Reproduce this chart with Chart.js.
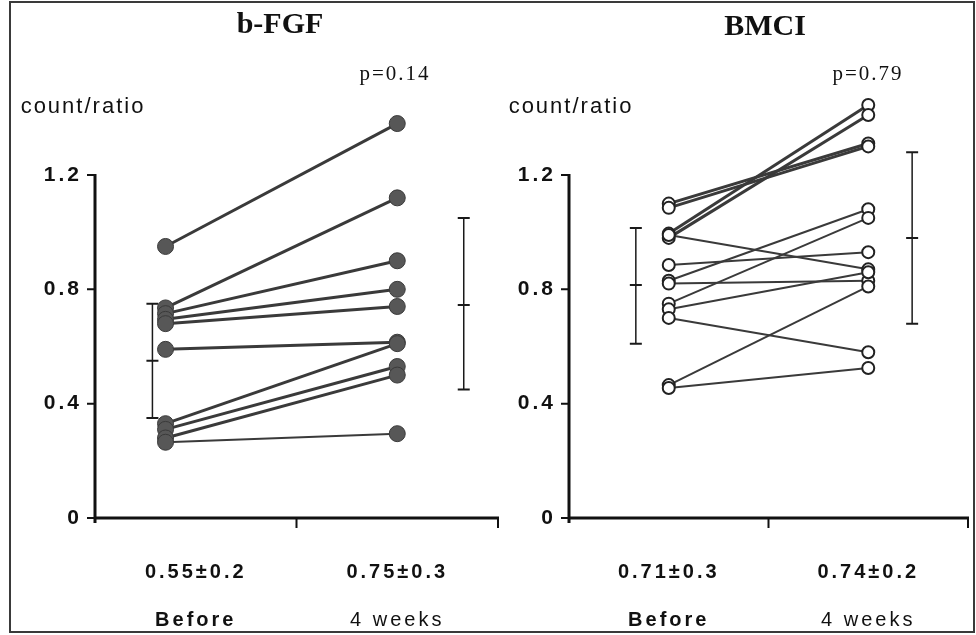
<!DOCTYPE html>
<html>
<head>
<meta charset="utf-8">
<script src="https://cdn.jsdelivr.net/npm/chart.js@4.4.0/dist/chart.umd.min.js"></script>
<style>
  html, body { margin: 0; padding: 0; background: #fff; }
  #page { position: relative; width: 976px; height: 635px; overflow: hidden; font-family: "Liberation Sans", Arial, sans-serif; color: #111; }
  #frame { position: absolute; left: 9px; top: 1px; width: 966px; height: 632px; border: 2px solid #3a3a3a; box-sizing: border-box; }
  canvas { position: absolute; top: 0; }
  .lbl { position: absolute; white-space: nowrap; line-height: 1; transform: translate(-50%, -50%); }
  .title { font-family: "Liberation Serif", "Times New Roman", serif; font-weight: bold; font-size: 30px; }
  .pval { font-family: "Liberation Serif", "Times New Roman", serif; font-size: 21px; letter-spacing: 2px; }
  .unit { font-size: 22px; letter-spacing: 2px; }
</style>
</head>
<body>
<div id="page">
  <div id="frame"></div>
  <canvas id="fgf" width="510" height="635" style="left:0;width:510px;height:635px"></canvas>
  <canvas id="bmci" width="476" height="635" style="left:500px;width:476px;height:635px"></canvas>
  <div class="lbl title" style="left:280px;top:23px">b-FGF</div>
  <div class="lbl title" style="left:765px;top:25px">BMCI</div>
  <div class="lbl pval" style="left:395px;top:73px">p=0.14</div>
  <div class="lbl pval" style="left:868px;top:73px">p=0.79</div>
  <div class="lbl unit" style="left:83px;top:106px">count/ratio</div>
  <div class="lbl unit" style="left:571px;top:106px">count/ratio</div>
</div>
<script>
"use strict";

// shared axis values
const yTicks = [0, 0.4, 0.8, 1.2];
const yTickLabels = ["0", "0.4", "0.8", "1.2"];
const groups = ["Before", "4 weeks"];

// b-FGF, one entry per subject
const fgfBefore = [0.95, 0.735, 0.715, 0.695, 0.68, 0.59, 0.33, 0.31, 0.28, 0.265];
const fgfAfter = [1.38, 1.12, 0.90, 0.80, 0.74, 0.615, 0.61, 0.53, 0.50, 0.295];
const fgfStats = ["0.55±0.2", "0.75±0.3"];
const fgfErrLow = [0.35, 0.45];
const fgfErrMean = [0.55, 0.745];
const fgfErrHigh = [0.75, 1.05];

// BMCI, one entry per subject
const bmciBefore = [1.10, 1.085, 0.995, 0.98, 0.99, 0.885, 0.83, 0.82, 0.75, 0.73, 0.70, 0.465, 0.455];
const bmciAfter = [1.31, 1.30, 1.445, 1.41, 0.87, 0.93, 1.08, 0.83, 1.05, 0.86, 0.58, 0.81, 0.525];
const bmciStats = ["0.71±0.3", "0.74±0.2"];
const bmciErrLow = [0.61, 0.68];
const bmciErrMean = [0.815, 0.98];
const bmciErrHigh = [1.015, 1.28];

const ink = "#111";

const axisPlugin = {
  id: "axisLines",
  beforeDraw(chart) {
    chart.ctx.letterSpacing = "3px";
  },
  afterDraw(chart) {
    const { ctx, scales } = chart;
    const x = scales.x, y = scales.y;
    const y0 = y.getPixelForValue(0);
    const yTop = y.getPixelForValue(yTicks[yTicks.length - 1]);
    const x0 = x.getPixelForValue(0);
    const x2 = x.getPixelForValue(2);
    ctx.save();
    ctx.strokeStyle = ink;
    ctx.lineWidth = 3;
    ctx.beginPath();
    ctx.moveTo(x0, yTop - 1);
    ctx.lineTo(x0, y0 + 5);
    ctx.moveTo(x0, y0);
    ctx.lineTo(x2 + 1, y0);
    ctx.stroke();
    ctx.lineWidth = 2;
    ctx.beginPath();
    yTicks.forEach(v => {
      const py = y.getPixelForValue(v);
      ctx.moveTo(x0 - 8, py);
      ctx.lineTo(x0, py);
    });
    [1, 2].forEach(v => {
      const px = x.getPixelForValue(v);
      ctx.moveTo(px, y0);
      ctx.lineTo(px, y0 + 10);
    });
    ctx.stroke();
    ctx.restore();
  }
};

function makePanel(id, p) {
  const datasets = [];
  p.before.forEach((b, i) => {
    datasets.push({
      data: [{ x: p.colX[0], y: b }, { x: p.colX[1], y: p.after[i] }],
      showLine: true,
      pointRadius: 0,
      borderColor: p.lineColor,
      borderWidth: p.lineWidth(i),
      order: 3
    });
  });
  datasets.push({
    data: p.before.map(v => ({ x: p.colX[0], y: v }))
      .concat(p.after.map(v => ({ x: p.colX[1], y: v }))),
    showLine: false,
    pointRadius: p.pointRadius,
    pointBackgroundColor: p.pointFill,
    pointBorderColor: p.pointEdge,
    pointBorderWidth: p.pointEdgeWidth,
    order: 1
  });
  for (let k = 0; k < 2; k++) {
    datasets.push({
      data: [p.errLow[k], p.errMean[k], p.errHigh[k]].map(v => ({ x: p.errX[k], y: v })),
      showLine: true,
      borderColor: "#1a1a1a",
      borderWidth: 1.5,
      pointStyle: "line",
      pointRadius: 6,
      pointBorderColor: "#1a1a1a",
      pointBorderWidth: 2,
      order: 2
    });
  }

  const colTicks = s => { s.ticks = [{ value: 0.5 }, { value: 1.5 }]; };

  return new Chart(document.getElementById(id).getContext("2d"), {
    type: "scatter",
    data: { datasets },
    options: {
      responsive: false,
      animation: false,
      events: [],
      layout: { padding: { top: 89.25, right: p.padRight, bottom: 0, left: 0 } },
      plugins: { legend: { display: false }, tooltip: { enabled: false } },
      scales: {
        x: {
          type: "linear", min: 0, max: 2, weight: 0,
          afterBuildTicks: colTicks,
          afterFit: s => { s.height = 68; },
          grid: { display: false, drawTicks: false },
          border: { display: false },
          ticks: {
            padding: 42, color: ink,
            font: { family: "Liberation Sans", size: 20, weight: "bold" },
            callback: (v, i) => p.stats[i]
          }
        },
        xn: {
          type: "linear", position: "bottom", min: 0, max: 2, weight: 1,
          afterBuildTicks: colTicks,
          afterFit: s => { s.height = 49; },
          grid: { display: false, drawTicks: false },
          border: { display: false },
          ticks: {
            padding: 22, color: ink,
            font: c => ({ family: "Liberation Sans", size: 20, weight: c.index === 0 ? "bold" : "normal" }),
            callback: (v, i) => groups[i]
          }
        },
        y: {
          type: "linear", min: 0, max: 1.5,
          afterBuildTicks: s => { s.ticks = yTicks.map(v => ({ value: v })); },
          afterFit: s => { s.width = p.axisLeft; },
          grid: { display: false, drawTicks: false },
          border: { display: false },
          ticks: {
            padding: 13, color: ink,
            font: { family: "Liberation Sans", size: 21, weight: "bold" },
            callback: (v, i) => yTickLabels[i]
          }
        }
      }
    },
    plugins: [axisPlugin]
  });
}

makePanel("fgf", {
  before: fgfBefore, after: fgfAfter, stats: fgfStats,
  errLow: fgfErrLow, errMean: fgfErrMean, errHigh: fgfErrHigh,
  colX: [0.35, 1.5], errX: [0.285, 1.83],
  axisLeft: 95, padRight: 12,
  lineColor: "#3a3a3a", lineWidth: i => (i === fgfBefore.length - 1 ? 2 : 3),
  pointRadius: 8, pointFill: "#575757", pointEdge: "#3a3a3a", pointEdgeWidth: 1
});

makePanel("bmci", {
  before: bmciBefore, after: bmciAfter, stats: bmciStats,
  errLow: bmciErrLow, errMean: bmciErrMean, errHigh: bmciErrHigh,
  colX: [0.5, 1.5], errX: [0.335, 1.72],
  axisLeft: 69, padRight: 5,
  lineColor: "#3a3a3a", lineWidth: i => (i < 4 ? 3 : 2),
  pointRadius: 6, pointFill: "#fff", pointEdge: "#222", pointEdgeWidth: 2
});
</script>
</body>
</html>
